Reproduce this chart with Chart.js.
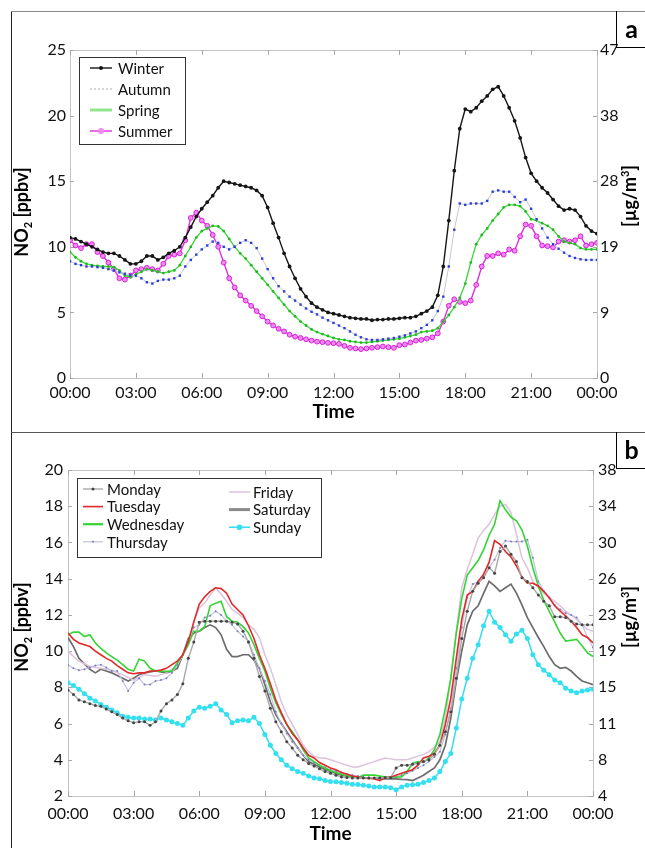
<!DOCTYPE html>
<html>
<head>
<meta charset="utf-8">
<title>NO2 diurnal cycles</title>
<script src="https://cdn.jsdelivr.net/npm/chart.js@4.4.1/dist/chart.umd.min.js"></script>
<style>
  html, body { margin: 0; padding: 0; background: #fff; }
  body { width: 645px; height: 848px; position: relative; overflow: hidden; font-family: Lato, sans-serif; }
  .panel { position: absolute; left: 0; width: 645px; }
  #panelA { top: 0; height: 430px; }
  #panelB { top: 432px; height: 416px; }
  .frameV { position: absolute; left: 11px; top: 11px; width: 1px; height: 837px; background: #222; }
  .frameH { position: absolute; left: 11px; width: 634px; height: 1px; }
  .tag { position: absolute; left: 616px; width: 29px; height: 36px; border-left: 1px solid #000; border-bottom: 1px solid #000;
         font: bold 25px Lato, sans-serif; text-align: center; line-height: 34px; color: #000; }
</style>
</head>
<body>
<div class="panel" id="panelA"><canvas id="chartA" width="645" height="430"></canvas></div>
<div class="panel" id="panelB"><canvas id="chartB" width="645" height="416"></canvas></div>
<div class="frameV"></div>
<div class="frameH" style="top:11px;background:#888;"></div>
<div class="frameH" style="top:432px;background:#555;"></div>
<div class="tag" style="top:11px;">a</div>
<div class="tag" style="top:432px;">b</div>

<script>
// sample times (hours), one every 15 minutes over the day
const HOURS = [];
for (let i = 0; i <= 96; i++) HOURS.push(i / 4);

const X_TICKS = ['00:00', '03:00', '06:00', '09:00', '12:00', '15:00', '18:00', '21:00', '00:00'];
const RIGHT_TICKS_A = ['0', '9', '19', '28', '38', '47'];
const RIGHT_TICKS_B = ['4', '8', '11', '15', '19', '23', '26', '30', '34', '38'];

// ---- panel a: seasons (ppbv) ----
const WINTER = [
  10.7, 10.6, 10.4, 10.2, 10.0, 9.8, 9.6, 9.5, 9.5, 9.3, 9.0, 8.7, 8.7, 8.9, 9.3, 9.3,
  9.0, 9.2, 9.5, 9.7, 10.0, 10.7, 11.5, 12.3, 12.9, 13.4, 13.9, 14.5, 15.0, 14.9, 14.8, 14.7,
  14.6, 14.5, 14.3, 13.9, 13.0, 11.8, 10.7, 9.5, 8.5, 7.6, 6.8, 6.2, 5.7, 5.4, 5.2, 5.0,
  4.9, 4.8, 4.7, 4.6, 4.55, 4.5, 4.5, 4.4, 4.45, 4.45, 4.5, 4.5, 4.55, 4.6, 4.6, 4.7,
  4.9, 5.1, 5.4, 6.3, 8.5, 12.0, 15.8, 19.0, 20.5, 20.3, 20.6, 21.1, 21.5, 22.0, 22.2, 21.5,
  20.6, 19.6, 18.3, 16.8, 15.6, 15.0, 14.5, 14.1, 13.6, 13.1, 12.8, 12.9, 12.8, 12.3, 11.6, 11.2,
  11.0
];
const AUTUMN = [
  8.9, 8.7, 8.6, 8.5, 8.5, 8.45, 8.4, 8.3, 8.2, 8.05, 7.95, 7.85, 7.8, 7.6, 7.3, 7.2,
  7.4, 7.5, 7.5, 7.6, 7.8, 8.5, 9.0, 9.4, 9.8, 10.1, 10.4, 10.3, 10.0, 9.8, 10.0, 10.3,
  10.5, 10.3, 9.9, 9.1, 8.3, 7.6, 7.0, 6.6, 6.2, 5.9, 5.6, 5.3, 5.05, 4.85, 4.6, 4.4,
  4.2, 4.0, 3.8, 3.55, 3.3, 3.1, 2.95, 2.9, 2.9, 2.95, 3.0, 3.05, 3.15, 3.25, 3.4, 3.55,
  3.8, 4.05, 4.4, 5.1, 6.2, 8.5, 11.3, 13.3, 13.2, 13.3, 13.3, 13.3, 13.5, 14.2, 14.3, 14.2,
  14.2, 13.8, 13.4, 13.6, 12.9, 12.1, 11.4, 10.7, 10.2, 9.85, 9.55, 9.3, 9.15, 9.05, 9.0, 9.0,
  9.0
];
const SPRING = [
  9.6, 9.2, 8.9, 8.7, 8.6, 8.55, 8.5, 8.5, 8.45, 8.2, 7.8, 7.7, 7.9, 8.1, 8.3, 8.2,
  8.1, 8.0, 8.1, 8.2, 8.6, 9.3, 10.0, 10.7, 11.2, 11.4, 11.6, 11.55, 11.2, 10.6, 10.0, 9.5,
  9.1, 8.6, 8.1, 7.6, 7.1, 6.6, 6.1, 5.6, 5.1, 4.7, 4.3, 4.0, 3.7, 3.5, 3.35, 3.2,
  3.05, 2.95, 2.9, 2.8, 2.75, 2.7, 2.7, 2.75, 2.8, 2.85, 2.9, 2.95, 3.0, 3.1, 3.2, 3.3,
  3.5, 3.55, 3.6, 3.8, 4.3, 4.8, 5.4, 6.1, 7.2, 8.8, 10.2, 10.9, 11.4, 12.0, 12.5, 13.0,
  13.2, 13.2, 13.1, 12.7, 12.1, 12.0, 11.8, 11.6, 11.3, 10.8, 10.4, 10.3, 10.2, 9.9, 9.8, 9.8,
  9.8
];
const SUMMER = [
  10.5, 10.1, 9.9, 10.2, 10.2, 9.6, 9.3, 8.8, 8.3, 7.6, 7.5, 7.8, 8.2, 8.3, 8.4, 8.3,
  8.2, 8.7, 9.3, 9.4, 9.5, 10.5, 12.2, 12.6, 12.0, 11.6, 10.9, 10.0, 8.8, 7.6, 6.9, 6.3,
  5.9, 5.5, 5.1, 4.7, 4.3, 4.0, 3.75, 3.55, 3.3, 3.15, 3.05, 2.95, 2.85, 2.77, 2.73, 2.68,
  2.65, 2.6, 2.45, 2.3, 2.25, 2.2, 2.25, 2.3, 2.35, 2.4, 2.35, 2.3, 2.5, 2.55, 2.7, 2.85,
  2.9, 3.0, 3.1, 3.4, 4.3, 5.5, 6.0, 5.8, 5.7, 5.9, 7.1, 8.5, 9.3, 9.3, 9.5, 9.4,
  9.8, 9.7, 10.8, 11.7, 11.6, 10.8, 10.1, 10.05, 9.95, 10.4, 10.5, 10.4, 10.5, 10.8, 10.1, 10.2,
  10.3
];

// ---- panel b: weekdays (ppbv) ----
const MONDAY = [
  7.85, 7.6, 7.3, 7.2, 7.1, 7.0, 6.95, 6.8, 6.65, 6.5, 6.3, 6.15, 6.05, 6.1, 6.1, 5.9,
  6.1, 6.7, 7.1, 7.3, 7.6, 8.2, 9.6, 10.5, 11.6, 11.65, 11.65, 11.65, 11.65, 11.65, 11.6, 11.5,
  11.1, 10.5, 9.6, 8.6, 7.8, 6.85, 6.1, 5.55, 5.0, 4.65, 4.25, 4.0, 3.8, 3.65, 3.5, 3.35,
  3.25, 3.15, 3.05, 3.02, 3.0, 3.0, 3.0, 3.0, 3.0, 3.0, 3.02, 3.02, 3.55, 3.7, 3.7, 3.75,
  3.8, 3.9, 4.0, 4.3, 4.8, 5.55, 6.65, 8.5, 10.7, 12.2, 13.3, 13.75, 14.05, 14.6, 14.3, 15.5,
  15.8, 15.35, 14.95, 14.05, 13.85, 13.5, 13.1, 12.75, 12.5, 11.9, 11.9, 11.85, 11.65, 11.5, 11.45, 11.45,
  11.45
];
const TUESDAY = [
  11.0, 10.65, 10.45, 10.35, 10.25, 10.0, 9.8, 9.6, 9.45, 9.2, 9.0, 8.8, 8.75, 8.8, 8.8, 8.9,
  8.9, 8.95, 9.05, 9.25, 9.45, 9.8, 10.55, 11.6, 12.6, 13.0, 13.3, 13.5, 13.45, 13.2, 12.6, 12.3,
  12.0, 11.4, 10.7, 9.8, 9.05, 8.2, 7.3, 6.6, 5.95, 5.45, 5.1, 4.65, 4.25, 4.1, 3.85, 3.7,
  3.55, 3.45, 3.3, 3.2, 3.1, 3.05, 3.0, 2.97, 2.95, 2.85, 3.0, 3.05, 3.15, 3.25, 3.35, 3.45,
  3.7, 4.1, 4.2, 4.35, 4.8, 5.95, 7.4, 9.6, 11.75, 13.1, 13.3, 13.85, 14.25, 14.9, 16.1, 15.9,
  15.5, 15.2, 14.7, 14.1, 13.75, 13.75, 13.6, 13.3, 12.95, 12.5, 12.2, 11.95, 11.65, 11.3, 10.9, 10.75,
  10.45
];
const WEDNESDAY = [
  10.9, 11.05, 11.05, 10.8, 10.9, 10.45, 10.15, 9.9, 9.7, 9.5, 9.25, 9.0, 8.9, 9.55, 9.45, 9.05,
  8.9, 8.88, 8.88, 8.9, 9.35, 9.8, 10.35, 11.1, 11.1, 11.35, 12.5, 12.65, 12.75, 11.9, 11.65, 11.6,
  11.35, 11.0, 10.35, 9.6, 8.9, 7.95, 7.15, 6.5, 5.95, 5.55, 5.1, 4.55, 4.1, 3.9, 3.7, 3.55,
  3.4, 3.3, 3.2, 3.1, 3.05, 3.0, 3.15, 3.15, 3.15, 3.1, 3.05, 3.05, 3.05, 3.05, 3.35, 3.8,
  3.9, 3.85, 4.1, 4.55, 5.4, 6.85, 8.5, 11.0, 12.9, 14.2, 14.6, 15.0, 15.6, 16.4, 17.0, 18.3,
  17.8, 17.4, 17.2, 16.7, 15.8, 14.6, 13.6, 12.8, 12.2, 11.6, 11.0, 10.55, 10.6, 10.65, 10.3, 9.9,
  9.7
];
const THURSDAY = [
  9.25, 9.05, 8.95, 9.0, 9.1, 9.2, 9.25, 9.1, 8.9, 8.9, 8.35, 7.8, 8.25, 8.5, 8.15, 8.15,
  8.35, 8.4, 8.5, 8.8, 9.25, 9.8, 10.55, 11.3, 11.45, 11.85, 11.95, 12.2, 12.0, 11.65, 11.45, 11.1,
  10.8, 10.55, 9.8, 9.05, 8.35, 7.6, 6.65, 6.0, 5.45, 5.0, 4.65, 4.25, 4.0, 3.85, 3.7, 3.57,
  3.45, 3.37, 3.3, 3.22, 3.15, 3.1, 3.05, 3.02, 3.0, 3.0, 3.0, 3.02, 3.05, 3.15, 3.25, 3.4,
  3.55, 3.7, 3.9, 4.15, 4.45, 5.4, 6.85, 9.05, 11.3, 12.95, 13.7, 13.85, 14.15, 14.6, 15.05, 15.7,
  16.1, 16.05, 16.05, 16.05, 16.15, 15.15, 13.85, 13.3, 12.95, 12.55, 12.3, 12.1, 12.0, 11.85, 11.45, 10.75,
  10.2
];
const FRIDAY = [
  10.0, 9.7, 9.45, 9.3, 9.15, 9.1, 9.05, 9.0, 8.95, 8.8, 8.7, 8.55, 8.4, 8.55, 8.7, 8.65,
  8.6, 8.7, 8.8, 9.0, 9.25, 9.8, 10.35, 11.65, 12.4, 12.65, 13.1, 13.5, 13.15, 12.75, 12.3, 12.1,
  11.85, 11.45, 11.2, 10.75, 9.8, 9.05, 8.15, 7.2, 6.5, 5.95, 5.4, 4.8, 4.45, 4.2, 4.1, 4.1,
  4.0, 3.9, 3.8, 3.7, 3.6, 3.6, 3.7, 3.8, 3.9, 4.0, 4.1, 4.05, 4.0, 4.0, 4.0, 4.1,
  4.2, 4.3, 4.45, 4.7, 5.0, 6.3, 8.5, 11.1, 13.5, 14.5, 15.35, 16.25, 16.65, 17.0, 17.55, 18.0,
  18.1, 17.65, 16.45, 15.15, 14.6, 13.85, 13.5, 13.2, 12.95, 12.75, 12.5, 12.2, 12.0, 11.75, 11.45, 11.2,
  11.1
];
const SATURDAY = [
  10.75, 10.25, 9.6, 9.3, 9.0, 8.8, 9.0, 8.9, 8.8, 8.65, 8.5, 8.35, 8.5, 8.7, 8.8, 8.85,
  8.9, 8.85, 8.8, 8.9, 9.05, 9.8, 10.7, 11.0, 11.1, 11.3, 11.45, 11.3, 10.9, 10.1, 9.7, 9.7,
  9.8, 9.8, 9.5, 9.05, 8.15, 7.2, 6.5, 6.0, 5.55, 5.1, 4.65, 4.25, 3.9, 3.75, 3.6, 3.47,
  3.35, 3.25, 3.15, 3.1, 3.05, 3.02, 3.0, 3.0, 3.0, 2.97, 2.95, 2.95, 2.95, 2.92, 2.9, 2.85,
  3.0, 3.15, 3.35, 3.55, 4.0, 4.8, 6.3, 8.35, 10.0, 11.45, 12.2, 12.5, 13.2, 13.85, 13.6, 13.3,
  13.5, 13.7, 13.2, 12.55, 11.85, 11.3, 10.75, 10.25, 9.7, 9.25, 9.05, 9.1, 8.9, 8.6, 8.35, 8.25,
  8.15
];
const SUNDAY = [
  8.25, 8.1, 7.9, 7.65, 7.4, 7.25, 7.05, 6.9, 6.75, 6.6, 6.4, 6.35, 6.3, 6.3, 6.25, 6.25,
  6.2, 6.3, 6.2, 6.1, 6.0, 5.9, 6.3, 6.7, 6.9, 6.85, 6.95, 7.1, 6.75, 6.5, 6.05, 6.15,
  6.2, 6.15, 6.35, 6.0, 5.4, 4.8, 4.35, 4.0, 3.7, 3.5, 3.35, 3.25, 3.1, 3.0, 2.95, 2.85,
  2.8, 2.78, 2.75, 2.7, 2.65, 2.63, 2.6, 2.55, 2.5, 2.5, 2.5, 2.45, 2.35, 2.5, 2.6, 2.62,
  2.65, 2.75, 2.85, 3.0, 3.35, 3.9, 4.35, 5.75, 7.35, 8.5, 9.6, 10.35, 11.4, 12.2, 11.6, 11.3,
  10.9, 10.55, 10.95, 11.15, 10.7, 9.8, 9.25, 8.95, 8.7, 8.4, 8.25, 7.95, 7.8, 7.7, 7.8, 7.85,
  7.9
];

const FONT = "Lato, 'Open Sans', sans-serif";

function pts(values) {
    return values.map((v, i) => ({ x: HOURS[i], y: v }));
}

// draws the plot frame and short inward tick marks on all four sides
const framePlugin = {
    id: 'frame',
    beforeDatasetsDraw(chart) {
        const { ctx, chartArea: a, scales } = chart;
        ctx.save();
        ctx.strokeStyle = '#c4c4c4';
        ctx.lineWidth = 1;
        ctx.strokeRect(Math.round(a.left) + 0.5, Math.round(a.top) + 0.5,
            Math.round(a.right - a.left), Math.round(a.bottom - a.top));
        ctx.strokeStyle = '#a8a8a8';
        ctx.beginPath();
        scales.x.ticks.forEach(t => {
            const px = Math.round(scales.x.getPixelForValue(t.value)) + 0.5;
            ctx.moveTo(px, a.bottom); ctx.lineTo(px, a.bottom - 5);
            ctx.moveTo(px, a.top); ctx.lineTo(px, a.top + 5);
        });
        scales.y.ticks.forEach(t => {
            const py = Math.round(scales.y.getPixelForValue(t.value)) + 0.5;
            ctx.moveTo(a.left, py); ctx.lineTo(a.left + 4, py);
            ctx.moveTo(a.right, py); ctx.lineTo(a.right - 4, py);
        });
        ctx.stroke();
        ctx.restore();
    }
};

function drawRich(ctx, parts, cx, cy) {
    ctx.save();
    ctx.translate(cx, cy);
    ctx.rotate(-Math.PI / 2);
    let total = 0;
    parts.forEach(p => {
        ctx.font = `bold ${p.size}px ${FONT}`;
        p.w = ctx.measureText(p.text).width;
        total += p.w;
    });
    let x = -total / 2;
    ctx.fillStyle = '#000';
    ctx.textBaseline = 'alphabetic';
    parts.forEach(p => {
        ctx.font = `bold ${p.size}px ${FONT}`;
        ctx.fillText(p.text, x, 6 + p.dy);
        x += p.w;
    });
    ctx.restore();
}

// y-axis titles with sub/superscripts, both reading bottom to top
const axisTitlePlugin = {
    id: 'axisTitles',
    afterDraw(chart, args, opts) {
        const a = chart.chartArea;
        const mid = (a.top + a.bottom) / 2;
        drawRich(chart.ctx, [
            { text: 'NO', size: 18, dy: 0 },
            { text: '2', size: 11, dy: 4 },
            { text: ' [ppbv]', size: 18, dy: 0 }
        ], opts.leftX, mid + opts.leftDy);
        drawRich(chart.ctx, [
            { text: '[µg/m', size: 18, dy: 0 },
            { text: '3', size: 11, dy: -7 },
            { text: ']', size: 18, dy: 0 }
        ], opts.rightX, mid + opts.rightDy);
    }
};

// boxed legend inside the plot, built from the datasets
const boxLegendPlugin = {
    id: 'boxLegend',
    afterDraw(chart, args, opts) {
        const { ctx } = chart;
        const b = opts.box;
        ctx.save();
        ctx.fillStyle = '#fff';
        ctx.fillRect(b.x, b.y, b.w, b.h);
        ctx.strokeStyle = '#333';
        ctx.lineWidth = 1;
        ctx.strokeRect(b.x + 0.5, b.y + 0.5, b.w, b.h);
        ctx.font = `15px ${FONT}`;
        ctx.textBaseline = 'middle';
        opts.columns.forEach(col => {
            for (let k = col.from; k <= col.to; k++) {
                const ds = chart.data.datasets[k];
                const y = col.y0 + (k - col.from) * col.rowH;
                ctx.strokeStyle = ds.legendColor || ds.borderColor;
                ctx.lineWidth = ds.legendWidth || ds.borderWidth;
                ctx.setLineDash(ds.legendDash || []);
                ctx.beginPath();
                ctx.moveTo(col.sx, y);
                ctx.lineTo(col.sx + col.sw, y);
                ctx.stroke();
                ctx.setLineDash([]);
                if (ds.legendPoint) {
                    ctx.fillStyle = ds.pointBackgroundColor;
                    ctx.beginPath();
                    ctx.arc(col.sx + col.sw / 2, y, ds.legendPoint, 0, Math.PI * 2);
                    ctx.fill();
                }
                ctx.fillStyle = '#111';
                ctx.fillText(ds.label, col.tx, y + 1);
            }
        });
        ctx.restore();
    }
};

function buildOptions(p) {
    const tickFont = { family: FONT, size: 16 };
    return {
        responsive: false,
        animation: false,
        events: [],
        layout: { padding: { top: p.padTop, left: 0, right: 0, bottom: 0 } },
        elements: { line: { tension: 0 } },
        plugins: {
            legend: { display: false },
            tooltip: { enabled: false },
            axisTitles: p.titles,
            boxLegend: p.legend
        },
        scales: {
            x: {
                type: 'linear', min: 0, max: 24,
                grid: { display: false, drawTicks: false },
                border: { display: false },
                ticks: {
                    stepSize: 3, autoSkip: false, maxRotation: 0, padding: p.xPad,
                    color: '#111', font: tickFont,
                    callback: v => X_TICKS[v / 3]
                },
                title: {
                    display: true, text: 'Time', color: '#000',
                    font: { family: FONT, size: 19, weight: 'bold' },
                    padding: { top: 0, bottom: p.timePad }
                },
                afterFit: s => { s.height = p.bottomH; }
            },
            y: {
                min: p.yMin, max: p.yMax,
                grid: { display: false, drawTicks: false },
                border: { display: false },
                ticks: { stepSize: p.yStep, padding: p.yPad, color: '#111', font: tickFont },
                afterFit: s => { s.width = p.leftW; }
            },
            y2: {
                position: 'right',
                min: p.yMin, max: p.yMax,
                grid: { display: false, drawTicks: false },
                border: { display: false },
                ticks: {
                    stepSize: p.yStep, padding: p.y2Pad, color: '#111', font: tickFont,
                    callback: (v, i) => p.rightTicks[i]
                },
                afterFit: s => { s.width = p.rightW; }
            }
        }
    };
}

// ---- panel a ----
new Chart(document.getElementById('chartA'), {
    type: 'line',
    data: {
        datasets: [
            { label: 'Winter', data: pts(WINTER), borderColor: '#151515', borderWidth: 1.4,
              pointRadius: 1.9, pointBorderWidth: 0, pointBackgroundColor: '#151515', legendPoint: 2 },
            { label: 'Autumn', data: pts(AUTUMN), borderColor: '#c6c6d2', borderWidth: 1,
              pointStyle: 'rect', pointRadius: 1.7, pointBorderWidth: 0, pointBackgroundColor: '#2b3fd6',
              legendColor: '#c8c8c8', legendDash: [2, 2], legendWidth: 1.5 },
            { label: 'Spring', data: pts(SPRING), borderColor: '#3ad63a', borderWidth: 1.3,
              pointRadius: 1.4, pointBorderWidth: 0, pointBackgroundColor: '#22b822',
              legendColor: '#8fe68f', legendWidth: 3 },
            { label: 'Summer', data: pts(SUMMER), borderColor: '#e02ee0', borderWidth: 1.4,
              pointRadius: 2.4, pointBorderWidth: 1, pointBorderColor: '#d81fd8', pointBackgroundColor: '#f08af0',
              legendPoint: 3 }
        ]
    },
    options: buildOptions({
        padTop: 50, bottomH: 52, leftW: 70, rightW: 48,
        yMin: 0, yMax: 25, yStep: 5, rightTicks: RIGHT_TICKS_A,
        xPad: 5, yPad: 4, y2Pad: 3, timePad: 7,
        titles: { leftX: 22, leftDy: -2, rightX: 630, rightDy: -18 },
        legend: {
            box: { x: 79, y: 57, w: 106, h: 87 },
            columns: [{ from: 0, to: 3, sx: 90, sw: 22, tx: 118, y0: 68, rowH: 21 }]
        }
    }),
    plugins: [framePlugin, axisTitlePlugin, boxLegendPlugin]
});

// ---- panel b ----
new Chart(document.getElementById('chartB'), {
    type: 'line',
    data: {
        datasets: [
            { label: 'Monday', data: pts(MONDAY), borderColor: '#a9a9a9', borderWidth: 1.4,
              pointRadius: 1.5, pointBorderWidth: 0, pointBackgroundColor: '#454545', legendPoint: 1.5 },
            { label: 'Tuesday', data: pts(TUESDAY), borderColor: '#e02a2a', borderWidth: 1.6, pointRadius: 0 },
            { label: 'Wednesday', data: pts(WEDNESDAY), borderColor: '#33d433', borderWidth: 1.6, pointRadius: 0,
              legendWidth: 2.2 },
            { label: 'Thursday', data: pts(THURSDAY), borderColor: '#c2c2dc', borderWidth: 1.2,
              pointRadius: 1, pointBorderWidth: 0, pointBackgroundColor: '#7a7ac0', legendPoint: 1 },
            { label: 'Friday', data: pts(FRIDAY), borderColor: '#dcc2dc', borderWidth: 1.5, pointRadius: 0 },
            { label: 'Saturday', data: pts(SATURDAY), borderColor: '#6c6c6c', borderWidth: 1.7, pointRadius: 0,
              legendWidth: 3, legendColor: '#8a8a8a' },
            { label: 'Sunday', data: pts(SUNDAY), borderColor: '#34dcec', borderWidth: 1.5,
              pointRadius: 2.5, pointBorderWidth: 0, pointBackgroundColor: '#34e0f0', legendPoint: 2.8 }
        ]
    },
    options: buildOptions({
        padTop: 38, bottomH: 52, leftW: 68, rightW: 52,
        yMin: 2, yMax: 20, yStep: 2, rightTicks: RIGHT_TICKS_B,
        xPad: 8, yPad: 5, y2Pad: 5, timePad: 3,
        titles: { leftX: 22, leftDy: -6, rightX: 630, rightDy: -16 },
        legend: {
            box: { x: 77, y: 46, w: 244, h: 79 },
            columns: [
                { from: 0, to: 3, sx: 83, sw: 20, tx: 107, y0: 57, rowH: 17.6 },
                { from: 4, to: 6, sx: 229, sw: 21, tx: 253, y0: 60, rowH: 17.6 }
            ]
        }
    }),
    plugins: [framePlugin, axisTitlePlugin, boxLegendPlugin]
});
</script>
</body>
</html>
